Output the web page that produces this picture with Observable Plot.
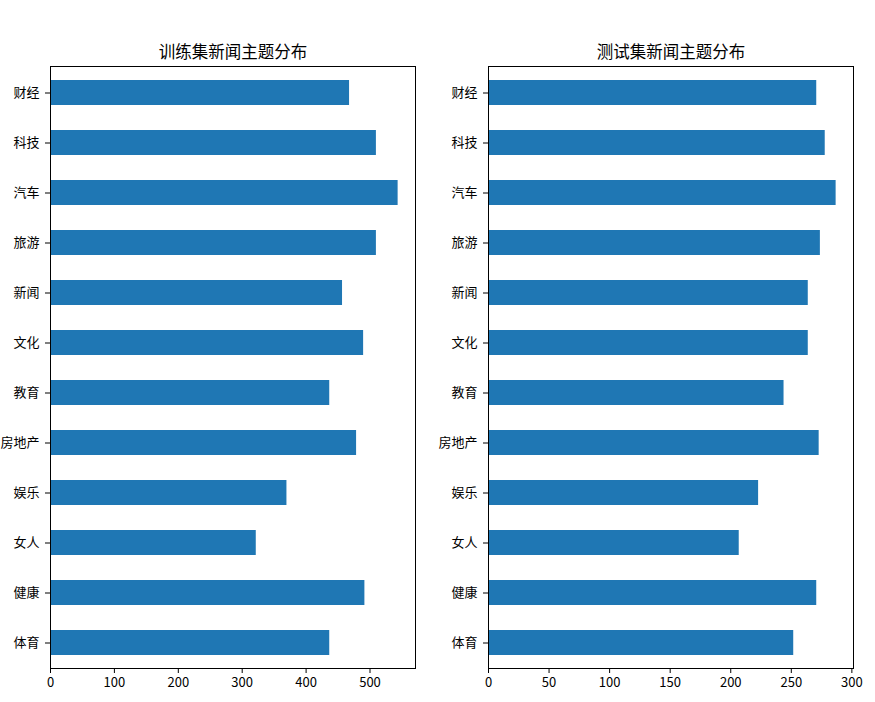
<!DOCTYPE html>
<html>
<head>
<meta charset="utf-8">
<script src="https://cdn.jsdelivr.net/npm/d3@7"></script>
<script src="https://cdn.jsdelivr.net/npm/@observablehq/plot@0.6"></script>
<style>
  html, body { margin: 0; padding: 0; background: #fff; }
  #wrap { position: relative; width: 875px; height: 702px; overflow: hidden; }
  #wrap > svg { position: absolute; top: 0; }
</style>
</head>
<body>
<div id="wrap"></div>
<script>
const categories = ["财经", "科技", "汽车", "旅游", "新闻", "文化", "教育", "房地产", "娱乐", "女人", "健康", "体育"];
const trainCounts = [468, 510, 544, 510, 457, 490, 437, 479, 370, 322, 492, 437];
const testCounts  = [271, 278, 287, 274, 264, 264, 244, 273, 223, 207, 271, 252];
const trainTicks = [0, 100, 200, 300, 400, 500];
const testTicks = [0, 50, 100, 150, 200, 250, 300];
const titles = ["训练集新闻主题分布", "测试集新闻主题分布"];

const FONT = "'Noto Sans CJK SC', 'DejaVu Sans', sans-serif";

function panel(values, ticks, title, left, width, marginLeft, marginRight) {
  const data = categories.map((c, i) => ({cat: c, value: values[i]}));
  const xmax = d3.max(values) * 1.05;
  const svg = Plot.plot({
    width: width,
    height: 702,
    marginTop: 66,
    marginBottom: 34,
    marginLeft: marginLeft,
    marginRight: marginRight,
    style: {fontFamily: FONT, fontSize: "13px", color: "#000", background: "transparent"},
    x: {domain: [0, xmax], ticks: ticks, tickFormat: d => String(d)},
    y: {domain: categories, paddingInner: 0.5, paddingOuter: 0.25, align: 0.5},
    marks: [
      Plot.barX(data, {x: "value", y: "cat", fill: "#1f77b4"}),
      Plot.frame({stroke: "#000", strokeWidth: 1}),
      Plot.axisX({ticks: ticks, tickSize: 5, tickPadding: 4, fontSize: 13, label: null, tickFormat: d => String(d)}),
      Plot.axisY({tickSize: 5, tickPadding: 6, fontSize: 13, label: null}),
      Plot.text([title], {frameAnchor: "top", dy: -20, fontSize: 16.5, fill: "#000", text: d => d})
    ]
  });
  svg.style.left = left + "px";
  return svg;
}

const wrap = document.getElementById("wrap");
wrap.appendChild(panel(trainCounts, trainTicks, titles[0], 0, 437, 50, 22));
wrap.appendChild(panel(testCounts, testTicks, titles[1], 437, 438, 51, 22));
</script>
</body>
</html>
